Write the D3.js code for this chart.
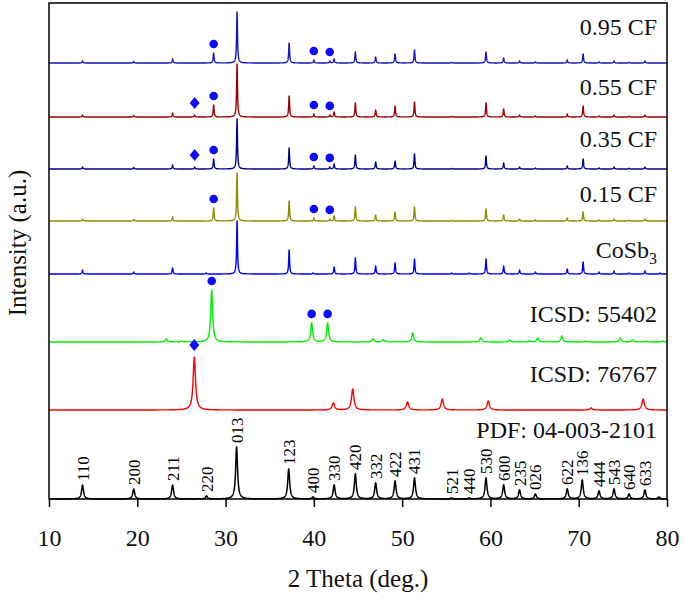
<!DOCTYPE html>
<html><head><meta charset="utf-8">
<script src="https://cdn.jsdelivr.net/npm/d3@7"></script>
<style>body{margin:0;background:#fff}</style>
</head><body>
<svg id="chart" width="685" height="599"></svg>
<script>
// ---------- DATA ----------
const seriesNames = ["0.95 CF","0.55 CF","0.35 CF","0.15 CF","CoSb3","ICSD: 55402","ICSD: 76767","PDF: 04-003-2101"];
// vertical stacking offset of each pattern (a.u.)
const seriesOffsets = [436, 382, 330, 278, 225, 157, 89, 0];

// peak lists: [2θ (deg), intensity (a.u.)]
const peaks095 = [[13.8,2],[19.6,1.5],[24.0,4],[28.65,10],[31.3,51],[37.2,20],[40.0,3],[41.8,2],[42.3,4],[44.7,11],[47.0,6],[49.2,9],[51.4,13],[55.6,0.5],[59.5,11],[61.5,5],[63.3,2],[65.1,1],[68.7,3],[70.5,9],[72.3,1],[74.0,2],[75.7,0.7],[77.5,2]];
const peaks055 = [[13.8,2],[19.6,1.5],[24.0,4],[26.5,2],[28.65,12],[31.3,53],[37.2,21],[40.0,3],[41.8,2],[42.3,5],[44.7,14],[47.0,7],[49.2,11],[51.4,15],[55.6,0.5],[59.5,14],[61.5,8],[63.3,2],[65.1,1],[68.7,3],[70.5,11],[72.3,1],[74.0,2],[75.7,0.7],[77.5,2]];
const peaks035 = [[13.8,2],[19.6,1.5],[24.0,4],[26.5,2],[28.65,10],[31.3,50],[37.2,21],[40.0,3],[41.8,2],[42.3,5],[44.7,14],[47.0,7],[49.2,8],[51.4,15],[55.6,0.5],[59.5,13],[61.5,6],[63.3,2],[65.1,1],[68.7,3],[70.5,10],[72.3,1],[74.0,2],[75.7,0.7],[77.5,2]];
const peaks015 = [[13.8,2],[19.6,1.5],[24.0,4],[28.65,13],[31.3,48],[37.2,20],[40.0,3],[41.8,2],[42.3,5],[44.7,14],[47.0,6],[49.2,9],[51.4,14],[55.6,0.5],[59.5,12],[61.5,6],[63.3,2],[65.1,1],[68.7,3],[70.5,9],[72.3,1],[74.0,2],[75.7,0.7],[77.5,2]];
const peaksCoSb3 = [[13.8,4],[19.6,2],[24.0,6],[27.8,1],[31.3,53],[37.2,24],[39.9,1],[42.3,7],[44.7,16],[47.0,8],[49.2,11],[51.4,15],[55.6,1],[57.6,1],[59.5,15],[61.5,8],[63.3,4],[65.1,2],[68.7,5],[70.5,12],[72.3,2],[74.0,3],[75.7,1],[77.5,3],[79.2,1]];
const peaks55402 = [[23.3,3],[25.0,1],[28.43,52],[39.75,19],[41.56,19],[46.7,3],[47.8,2],[48.2,1],[51.2,9],[58.9,4],[62.2,2],[64.4,1],[65.35,4],[68.1,6],[70.8,1],[74.7,4],[76.1,2],[77.6,1],[79.5,1]];
const peaks76767 = [[26.46,53],[42.2,7],[44.4,21],[50.6,8],[54.55,11],[59.75,9],[71.4,2],[77.3,11]];
// reference PDF 04-003-2101 (CoSb3) lines with Miller indices
const pdfPos    = [13.8, 19.6, 24.0, 27.85, 31.25, 37.15, 39.9, 42.3, 44.7, 47.0, 49.2, 51.4, 55.6, 57.6, 59.5, 61.5, 63.3, 65.1, 68.7, 70.4, 72.3, 74.0, 75.7, 77.5, 79.1];
const pdfInt    = [14, 10, 14, 3, 52, 30, 2, 14, 25, 16, 18, 21, 1, 1, 21, 14, 9, 5, 10, 19, 8, 10, 5, 9, 2];
const pdfHkl    = ["110","200","211","220","013","123","400","330","420","332","422","431","521","440","530","600","235","026","622","136","444","543","640","633",""];

// secondary phase markers: circle = ICSD 55402 phase, diamond = ICSD 76767 phase
const markerSeries = [0,0,0, 1,1,1,1, 2,2,2,2, 3,3,3, 5,5,5, 6];
const markerPos    = [28.65,40.0,41.8, 26.5,28.65,40.0,41.8, 26.5,28.65,40.0,41.8, 28.65,40.0,41.8, 28.43,39.75,41.56, 26.46];
const markerType   = ["c","c","c", "d","c","c","c", "d","c","c","c", "c","c","c", "c","c","c", "d"];

const xTicks = [10,20,30,40,50,60,70,80];

// ---------- STYLE / LAYOUT ----------
const colors = ["#1414c0","#9a0000","#00008c","#8c8c00","#0000ff","#00ee00","#ff0000","#000000"];
const hwhm   = [0.06,0.06,0.06,0.06,0.06,0.13,0.16,0.13];
const labelLift = [28,22,22,19,16,20,28,61];

const W = 685, H = 599;
const margin = {left:49, right:18, top:3, bottom:100};
const svg = d3.select("#chart");
const x = d3.scaleLinear().domain([10,80]).range([margin.left, W - margin.right]);
const y = d3.scaleLinear().domain([0,496]).range([H - margin.bottom, margin.top]);

const pdfPeaks = pdfPos.map((p,i)=>[p,pdfInt[i]]);
const allPeaks = [peaks095,peaks055,peaks035,peaks015,peaksCoSb3,peaks55402,peaks76767,pdfPeaks];

function profile(peaks, w){
  const pts = [];
  for (let t = 10; t <= 80.0001; t += 0.01){
    let v = 0;
    for (const [p,h] of peaks){ const d=(t-p)/w; v += h/(1+d*d); }
    pts.push([t,v]);
  }
  return pts;
}

const line = d3.line().x(d=>x(d[0])).y(d=>d[1]);
const g = svg.append("g");
allPeaks.forEach((pk,i)=>{
  const pts = profile(pk, hwhm[i]).map(d=>[d[0], y(seriesOffsets[i]+d[1])]);
  g.append("path").attr("d", line(pts)).attr("fill","none")
   .attr("stroke", colors[i]).attr("stroke-width", i===7?1.5:1.4).attr("stroke-linejoin","round");
});

// PDF hkl labels
const font = "'Liberation Serif','Times New Roman',serif";
pdfPos.forEach((p,i)=>{
  if(!pdfHkl[i]) return;
  const top = y(pdfInt[i]) - 4;
  svg.append("text").attr("transform",`translate(${x(p)},${top}) rotate(-90)`)
    .attr("dy","0.35em").attr("text-anchor","start")
    .attr("font-family",font).attr("font-size",17).attr("fill","#000").text(pdfHkl[i]);
});

// markers
markerPos.forEach((p,i)=>{
  const s = markerSeries[i];
  const pk = allPeaks[s];
  let h = 0; for (const [q,v] of pk){ const d=(p-q)/hwhm[s]; h += v/(1+d*d); }
  const topY = y(seriesOffsets[s]+h);
  if(markerType[i]==="c"){
    svg.append("circle").attr("cx",x(p)).attr("cy",topY-9).attr("r",4.3).attr("fill","#0a0aff");
  } else {
    const cx=x(p), cy=topY-12;
    svg.append("path").attr("d",`M${cx},${cy-6}L${cx+5},${cy}L${cx},${cy+6}L${cx-5},${cy}Z`).attr("fill","#0a0aff");
  }
});

// series labels
seriesNames.forEach((n,i)=>{
  const t = svg.append("text").attr("x", 657).attr("y", y(seriesOffsets[i]) - labelLift[i])
    .attr("text-anchor","end").attr("font-family",font).attr("font-size",24).attr("fill","#111");
  if(n==="CoSb3"){ t.append("tspan").text("CoSb"); t.append("tspan").attr("font-size",16).attr("dy",6).text("3"); }
  else t.text(n);
});

// frame
svg.append("rect").attr("x",margin.left).attr("y",margin.top)
  .attr("width",W-margin.left-margin.right).attr("height",H-margin.top-margin.bottom)
  .attr("fill","none").attr("stroke","#000").attr("stroke-width",1.5);

// x axis
const ax = svg.append("g").attr("transform",`translate(0,${H-margin.bottom})`)
  .call(d3.axisBottom(x).tickValues(xTicks).tickSize(8).tickPadding(22).tickFormat(d3.format("d")));
ax.select(".domain").remove();
ax.selectAll("line").attr("stroke","#000").attr("stroke-width",1.5);
ax.selectAll("text").attr("font-family",font).attr("font-size",24).attr("fill","#111");

svg.append("text").attr("x",(margin.left+W-margin.right)/2).attr("y",587)
  .attr("text-anchor","middle").attr("font-family",font).attr("font-size",25).attr("fill","#111").text("2 Theta (deg.)");
svg.append("text").attr("transform",`translate(26,243) rotate(-90)`)
  .attr("text-anchor","middle").attr("font-family",font).attr("font-size",25).attr("fill","#111").text("Intensity (a.u.)");
</script>
</body></html>
